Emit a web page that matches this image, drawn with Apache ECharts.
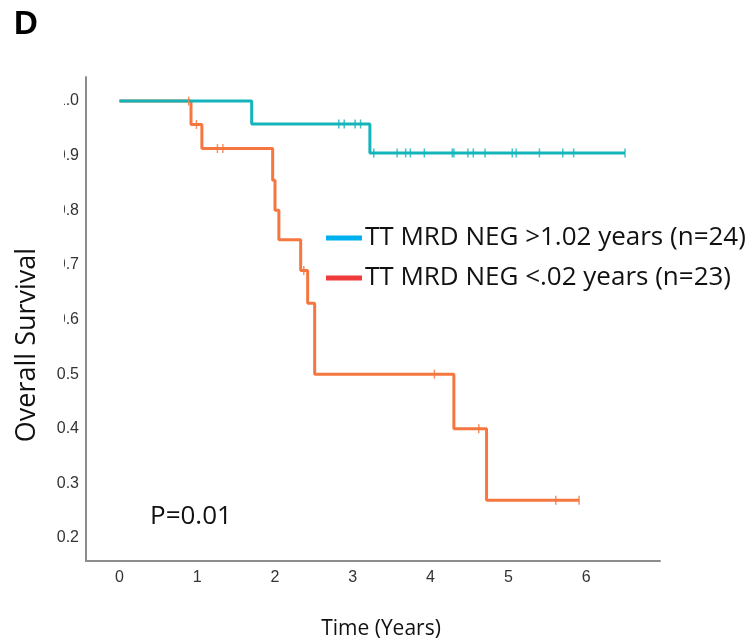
<!DOCTYPE html>
<html><head><meta charset="utf-8">
<script src="https://cdn.jsdelivr.net/npm/echarts@6/dist/echarts.min.js"></script>
<style>html,body{margin:0;padding:0;background:#fff}#c{width:749px;height:643px}</style>
</head><body><div id="c"></div>
<script>
// ---- data ----
var seriesNames = ['TT MRD NEG >1.02 years (n=24)', 'TT MRD NEG <.02 years (n=23)'];
var xTicks = [0, 1, 2, 3, 4, 5, 6];
var yTicks = [0.2, 0.3, 0.4, 0.5, 0.6, 0.7, 0.8, 0.9, 1.0];
// Kaplan-Meier step points (time, survival)
var longTimes = [0, 1.70, 3.22, 6.50];
var longSurv  = [1.0, 0.958, 0.905, 0.905];
var longCensor = [2.82, 2.89, 3.03, 3.10, 3.27, 3.57, 3.68, 3.74, 3.92, 4.28, 4.30, 4.48, 4.55, 4.70, 5.05, 5.10, 5.40, 5.70, 5.84, 6.50];
var shortTimes = [0, 0.92, 1.06, 1.97, 2.00, 2.05, 2.33, 2.42, 2.51, 4.30, 4.72, 5.91];
var shortSurv  = [1.0, 0.957, 0.913, 0.855, 0.80, 0.746, 0.69, 0.63, 0.50, 0.40, 0.269, 0.269];
var shortCensor = [0.89, 0.99, 1.26, 1.33, 2.37, 4.05, 4.62, 5.61, 5.91];

function survAt(times, surv, t) {
  var s = surv[0];
  for (var i = 0; i < times.length; i++) { if (times[i] <= t) s = surv[i]; }
  return s;
}
function pairs(a, b) { return a.map(function (v, i) { return [v, b[i]]; }); }
function censorPts(times, surv, cs) { return cs.map(function (t) { return [t, survAt(times, surv, t)]; }); }

var teal = '#14b4bb', orange = '#f5773f';
var tickFont = '"Liberation Sans Narrow", "Liberation Sans", sans-serif';
var chart = echarts.init(document.getElementById('c'), null, {renderer: 'canvas'});
chart.setOption({
  animation: false,
  backgroundColor: '#fff',
  grid: {left: 86, top: 77, right: 89, bottom: 82, containLabel: false, outerBoundsMode: 'none'},
  xAxis: {
    type: 'value', min: -0.43, max: 6.95,
    axisLine: {show: true, onZero: false, lineStyle: {color: '#8c8c8c', width: 2}},
    axisTick: {show: false},
    splitLine: {show: false},
    axisLabel: {customValues: xTicks, fontFamily: tickFont, fontSize: 16, color: '#333', margin: 9, formatter: function (v) { return String(v); }}
  },
  yAxis: {
    type: 'value', min: 0.158, max: 1.044,
    axisLine: {show: true, onZero: false, lineStyle: {color: '#8c8c8c', width: 2}},
    axisTick: {show: false},
    splitLine: {show: false},
    axisLabel: {customValues: yTicks, fontFamily: tickFont, fontSize: 16, color: '#333', margin: 7, formatter: function (v) { return v.toFixed(1); }}
  },
  legend: {
    orient: 'vertical', left: 326, top: 225, padding: 0, itemGap: 14, itemWidth: 36, itemHeight: 5,
    textStyle: {fontFamily: 'Open Sans', fontSize: 26, color: '#111', padding: [0, 0, 0, -2]},
    selectedMode: false,
    data: [
      {name: seriesNames[0], icon: 'rect', itemStyle: {color: '#00b0ef'}},
      {name: seriesNames[1], icon: 'rect', itemStyle: {color: '#ef3b3b'}}
    ]
  },
  series: [
    {name: seriesNames[0], type: 'line', step: 'end', data: pairs(longTimes, longSurv), showSymbol: false, lineStyle: {color: teal, width: 3}, itemStyle: {color: teal}, z: 3},
    {name: seriesNames[1], type: 'line', step: 'end', data: pairs(shortTimes, shortSurv), showSymbol: false, lineStyle: {color: orange, width: 3}, itemStyle: {color: orange}, z: 2},
    {type: 'scatter', data: censorPts(longTimes, longSurv, longCensor), symbol: 'rect', symbolSize: [1.5, 9], itemStyle: {color: teal}, z: 4, silent: true},
    {type: 'scatter', data: censorPts(shortTimes, shortSurv, shortCensor), symbol: 'rect', symbolSize: [1.5, 9], itemStyle: {color: orange}, z: 4, silent: true}
  ],
  graphic: [
    {type: 'rect', shape: {x: 44, y: 85, width: 20, height: 245}, style: {fill: '#fff'}, z: 100},
    {type: 'text', left: 14, top: 8, style: {text: 'D', fontFamily: 'Liberation Sans', fontWeight: 'bold', fontSize: 33, fill: '#000'}},
    {type: 'text', left: 150, top: 504, style: {text: 'P=0.01', fontFamily: 'Open Sans', fontSize: 26, fill: '#111'}},
    {type: 'text', x: 27, y: 345, rotation: Math.PI / 2, style: {text: 'Overall Survival', fontFamily: 'Open Sans', fontSize: 27, fill: '#111', align: 'center', verticalAlign: 'middle'}},
    {type: 'text', x: 381, y: 629, style: {text: 'Time (Years)', fontFamily: 'Open Sans', fontSize: 21, fill: '#111', align: 'center', verticalAlign: 'middle'}}
  ]
});
</script></body></html>
